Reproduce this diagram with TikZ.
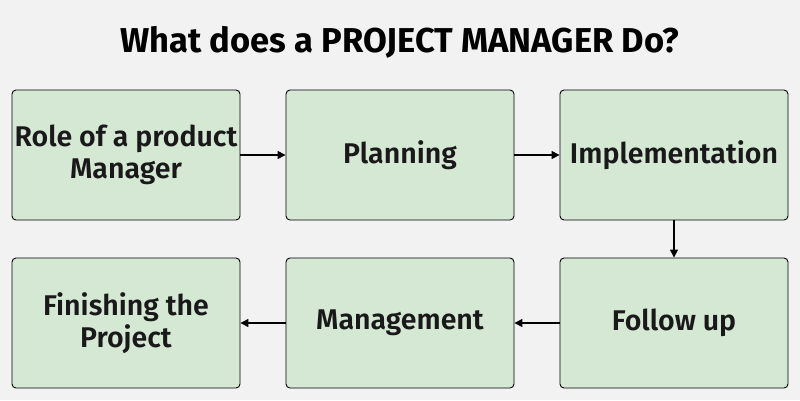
\documentclass[tikz,border=0pt]{standalone}
\usepackage{fontspec}
\setmainfont{Fira Sans}
\newfontfamily\boxfont{Fira Sans SemiBold}
\usetikzlibrary{arrows.meta}
\definecolor{bgc}{HTML}{F2F2F2}
\definecolor{boxc}{HTML}{D5E8D4}
\tikzset{
  stepbox/.style={draw=black, fill=boxc, line width=0.9pt, rounded corners=4pt,
    minimum width=228pt, minimum height=130pt, inner sep=0pt, align=center,
    font=\boxfont\fontsize{28.5}{32}\selectfont, text=black!90},
  conn/.style={line width=1.4pt, -{Triangle[length=8pt,width=8pt]}}
}
\begin{document}
\begin{tikzpicture}[x=1pt,y=-1pt]
\fill[bgc] (0,0) rectangle (800,400);
\useasboundingbox (0,0) rectangle (800,400);
\node[font=\bfseries\fontsize{34.5}{40}\selectfont] (title) at (400,42) {What does a PROJECT MANAGER Do?};
\node[stepbox] (b1) at (126,155) {Role of a product\\Manager};
\node[stepbox] (b2) at (400,155) {Planning};
\node[stepbox] (b3) at (674,155) {Implementation};
\node[stepbox] (b4) at (674,323) {Follow up};
\node[stepbox] (b5) at (400,323) {Management};
\node[stepbox] (b6) at (126,323) {Finishing the\\Project};
\draw[conn] (b1) -- (b2);
\draw[conn] (b2) -- (b3);
\draw[conn] (b3) -- (b4);
\draw[conn] (b4) -- (b5);
\draw[conn] (b5) -- (b6);
\end{tikzpicture}
\end{document}
